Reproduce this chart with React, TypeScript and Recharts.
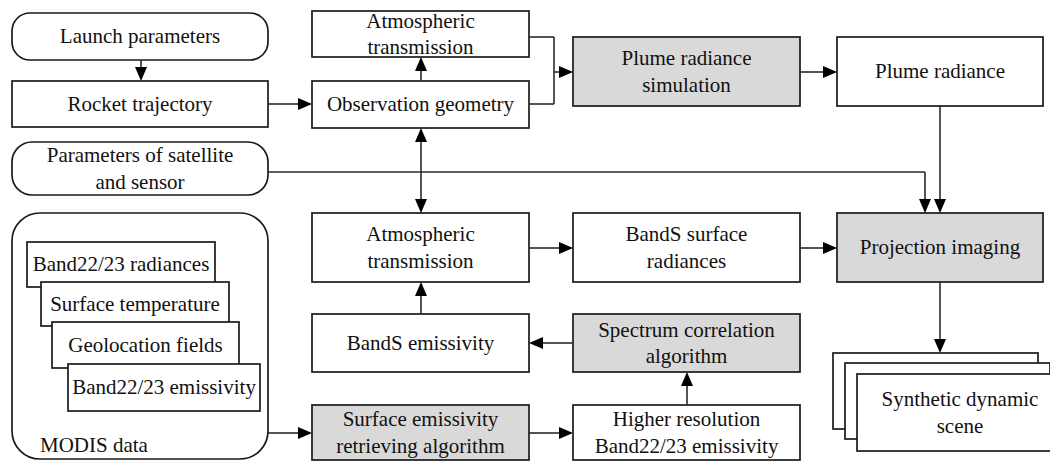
import { ComposedChart, XAxis, YAxis, ReferenceArea, ReferenceLine } from 'recharts'

// node texts
const launchText = ['Launch parameters']
const rocketText = ['Rocket trajectory']
const satText = ['Parameters of satellite', 'and sensor']
const modisText = ['MODIS data']
const modisItems = ['Band22/23 radiances', 'Surface temperature', 'Geolocation fields', 'Band22/23 emissivity']
const atmText = ['Atmospheric', 'transmission']
const obsText = ['Observation geometry']
const plumeSimText = ['Plume radiance', 'simulation']
const plumeText = ['Plume radiance']
const bandsSurfText = ['BandS surface', 'radiances']
const projText = ['Projection imaging']
const bandsEmisText = ['BandS emissivity']
const spectrumText = ['Spectrum correlation', 'algorithm']
const surfEmisText = ['Surface emissivity', 'retrieving algorithm']
const higherText = ['Higher resolution', 'Band22/23 emissivity']
const sceneText = ['Synthetic dynamic', 'scene']

const W = 1050
const H = 461
const FONT = 'Liberation Serif'
const FS = 21
const LINE_H = 26.5
const GRAY = '#d9d9d9'

type Node = {
  x: [number, number]
  y: [number, number]
  text: string[]
  fill?: string
  r?: number
  tx?: number
  ty?: number
  anchor?: 'start' | 'middle'
}

const nodes: Node[] = [
  { x: [12, 268], y: [13, 60], text: launchText, r: 18 },
  { x: [12, 268], y: [81, 127], text: rocketText },
  { x: [12, 268], y: [142, 195], text: satText, r: 20 },
  { x: [12, 268], y: [213, 459], text: modisText, r: 28, tx: 40, ty: 445, anchor: 'start' },
  { x: [27, 215], y: [242, 287], text: [modisItems[0]] },
  { x: [41, 229], y: [282, 326], text: [modisItems[1]] },
  { x: [52, 239], y: [322, 368], text: [modisItems[2]] },
  { x: [68, 260], y: [364, 411], text: [modisItems[3]] },
  { x: [312, 529], y: [11, 57], text: atmText },
  { x: [312, 529], y: [81, 128], text: obsText },
  { x: [573, 800], y: [37, 106], text: plumeSimText, fill: GRAY },
  { x: [837, 1043], y: [37, 106], text: plumeText },
  { x: [312, 529], y: [213, 282], text: atmText },
  { x: [573, 800], y: [213, 282], text: bandsSurfText },
  { x: [837, 1043], y: [213, 282], text: projText, fill: GRAY },
  { x: [312, 529], y: [314, 372], text: bandsEmisText },
  { x: [573, 800], y: [314, 372], text: spectrumText, fill: GRAY },
  { x: [312, 529], y: [405, 460], text: surfEmisText, fill: GRAY },
  { x: [573, 800], y: [405, 460], text: higherText },
  { x: [833, 1038], y: [353, 429], text: [] },
  { x: [845, 1050], y: [363, 439], text: [] },
  { x: [857, 1063], y: [374, 451], text: sceneText },
]

// [x1, y1, x2, y2, arrowhead at end]
type Edge = [number, number, number, number, boolean]
const edges: Edge[] = [
  [141, 60, 141, 81, true],
  [268, 104, 312, 104, true],
  [421, 81, 421, 57, true],
  [529, 37, 554, 37, false],
  [554, 37, 554, 104, false],
  [529, 104, 554, 104, false],
  [554, 72, 573, 72, true],
  [800, 72, 837, 72, true],
  [940, 106, 940, 213, true],
  [268, 172, 925, 172, false],
  [925, 172, 925, 213, true],
  [421, 150, 421, 128, true],
  [421, 150, 421, 213, true],
  [529, 248, 573, 248, true],
  [800, 248, 837, 248, true],
  [421, 314, 421, 282, true],
  [573, 343, 529, 343, true],
  [687, 405, 687, 372, true],
  [268, 433, 312, 433, true],
  [529, 433, 573, 433, true],
  [940, 282, 940, 353, true],
]

function boxShape(n: Node) {
  return (p: any) => {
    const { x, y, width, height } = p
    const cx = n.tx ?? x + width / 2
    const cy = n.ty ?? y + height / 2
    const start = cy - ((n.text.length - 1) * LINE_H) / 2
    return (
      <g>
        <rect
          x={x}
          y={y}
          width={width}
          height={height}
          rx={n.r ?? 0}
          ry={n.r ?? 0}
          fill={n.fill ?? '#fff'}
          stroke="#1a1a1a"
          strokeWidth={1.7}
        />
        {n.text.map((t, i) => (
          <text
            key={i}
            x={cx}
            y={start + i * LINE_H + FS * 0.33}
            textAnchor={n.anchor ?? 'middle'}
            fontFamily={FONT}
            fontSize={FS}
            fill="#111"
          >
            {t}
          </text>
        ))}
      </g>
    )
  }
}

function edgeShape(arrow: boolean) {
  return (p: any) => {
    const { x1, y1, x2, y2 } = p
    const dx = x2 - x1
    const dy = y2 - y1
    const len = Math.hypot(dx, dy) || 1
    const ux = dx / len
    const uy = dy / len
    const L = 14
    const hw = 6
    const bx = x2 - ux * L
    const by = y2 - uy * L
    const pts = `${x2},${y2} ${bx - uy * hw},${by + ux * hw} ${bx + uy * hw},${by - ux * hw}`
    return (
      <g>
        <line x1={x1} y1={y1} x2={arrow ? bx : x2} y2={arrow ? by : y2} stroke="#2a2a2a" strokeWidth={1.6} />
        {arrow && <polygon points={pts} fill="#000" />}
      </g>
    )
  }
}

export default function App() {
  return (
    <div style={{ position: 'absolute', left: 0, top: 0, width: W, height: H, background: '#fff' }}>
      <ComposedChart width={W} height={H} margin={{ top: 0, right: 0, bottom: 0, left: 0 }}>
        <XAxis type="number" dataKey="x" domain={[0, W]} allowDataOverflow hide />
        <YAxis type="number" dataKey="y" domain={[0, H]} allowDataOverflow reversed hide />
        {edges.map((e, i) => (
          <ReferenceLine
            key={`e${i}`}
            segment={[{ x: e[0], y: e[1] }, { x: e[2], y: e[3] }]}
            ifOverflow="visible"
            shape={edgeShape(e[4])}
          />
        ))}
        {nodes.map((n, i) => (
          <ReferenceArea
            key={`n${i}`}
            x1={n.x[0]}
            x2={n.x[1]}
            y1={n.y[0]}
            y2={n.y[1]}
            ifOverflow="visible"
            shape={boxShape(n)}
          />
        ))}
      </ComposedChart>
    </div>
  )
}
